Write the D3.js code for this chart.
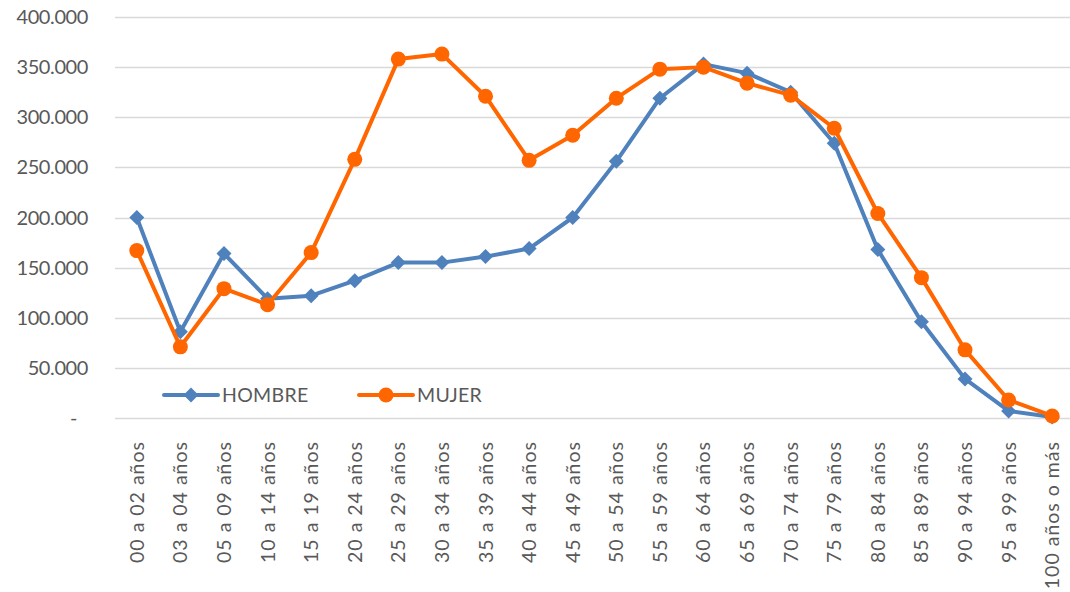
<!DOCTYPE html>
<html>
<head>
<meta charset="utf-8">
<script src="https://cdn.jsdelivr.net/npm/d3@7"></script>
<style>
  body { margin: 0; background: #fff; }
  svg text { font-family: Lato, "Open Sans", sans-serif; fill: #595959; }
</style>
</head>
<body>
<div id="chart"></div>
<script>
var categories = ["00 a 02 años", "03 a 04 años", "05 a 09 años", "10 a 14 años", "15 a 19 años",
  "20 a 24 años", "25 a 29 años", "30 a 34 años", "35 a 39 años", "40 a 44 años", "45 a 49 años",
  "50 a 54 años", "55 a 59 años", "60 a 64 años", "65 a 69 años", "70 a 74 años", "75 a 79 años",
  "80 a 84 años", "85 a 89 años", "90 a 94 años", "95 a 99 años", "100 años o más"];
var hombre = [200000, 86000, 164000, 119000, 122000, 137000, 155000, 155000, 161000, 169000, 200000,
  256000, 319000, 353000, 344000, 325000, 274000, 168000, 96000, 39000, 7000, 1000];
var mujer = [167000, 71000, 129000, 113000, 165000, 258000, 358000, 363000, 321000, 257000, 282000,
  319000, 348000, 350000, 334000, 322000, 289000, 204000, 140000, 68000, 18000, 2000];
var yTicks = [0, 50000, 100000, 150000, 200000, 250000, 300000, 350000, 400000];

var width = 1070, height = 592;
var margin = {top: 17, right: 0, bottom: 174, left: 115};

var svg = d3.select("#chart").append("svg").attr("width", width).attr("height", height);

var x = d3.scalePoint().domain(categories).range([margin.left, 1074]).padding(0.5);
var y = d3.scaleLinear().domain([0, 400000]).range([height - margin.bottom, margin.top]);

function fmt(v) {
  if (v == 0) return "-";
  return d3.format(",")(v).replace(/,/g, ".");
}

// gridlines
svg.append("g").selectAll("line").data(yTicks).enter().append("line")
  .attr("x1", margin.left).attr("x2", 1074)
  .attr("y1", d => Math.round(y(d)) + 0.5).attr("y2", d => Math.round(y(d)) + 0.5)
  .attr("stroke", "#d9d9d9").attr("stroke-width", 1.3);

// y labels
svg.append("g").selectAll("text").data(yTicks).enter().append("text")
  .attr("x", d => d == 0 ? 77 : 88)
  .attr("y", d => y(d) + 7)
  .attr("text-anchor", "end")
  .attr("font-size", 20)
  .attr("letter-spacing", -0.4)
  .text(fmt);

// x labels
svg.append("g").selectAll("text").data(categories).enter().append("text")
  .attr("transform", d => "translate(" + (x(d) + 7) + ",441) rotate(-90)")
  .attr("text-anchor", "end")
  .attr("font-size", 19.5)
  .attr("letter-spacing", 1)
  .text(d => d);

var line = d3.line().x((d, i) => x(categories[i])).y(d => y(d));

var series = [
  {name: "HOMBRE", values: hombre, color: "#4f81bd", marker: "diamond"},
  {name: "MUJER", values: mujer, color: "#ff6600", marker: "circle"}
];

function drawMarker(g, s, cx, cy) {
  if (s.marker == "diamond") {
    g.append("path")
      .attr("d", "M" + cx + "," + (cy - 7.5) + "L" + (cx + 7.5) + "," + cy + "L" + cx + "," + (cy + 7.5) + "L" + (cx - 7.5) + "," + cy + "Z")
      .attr("fill", s.color);
  } else {
    g.append("circle").attr("cx", cx).attr("cy", cy).attr("r", 7.5).attr("fill", s.color);
  }
}

series.forEach(function(s) {
  var g = svg.append("g");
  g.append("path").datum(s.values).attr("d", line)
    .attr("fill", "none").attr("stroke", s.color).attr("stroke-width", 4)
    .attr("stroke-linejoin", "round");
  s.values.forEach(function(v, i) { drawMarker(g, s, x(categories[i]), y(v)); });
});

// legend
var legendPos = [{x: 164, tx: 222}, {x: 359, tx: 417}];
series.forEach(function(s, i) {
  var g = svg.append("g");
  var lx = legendPos[i].x;
  g.append("line").attr("x1", lx).attr("x2", lx + 54).attr("y1", 395).attr("y2", 395)
    .attr("stroke", s.color).attr("stroke-width", 4).attr("stroke-linecap", "round");
  drawMarker(g, s, lx + 27, 395);
  g.append("text").attr("x", legendPos[i].tx).attr("y", 402).attr("font-size", 19.5)
    .attr("letter-spacing", 0.3).text(s.name);
});
</script>
</body>
</html>
